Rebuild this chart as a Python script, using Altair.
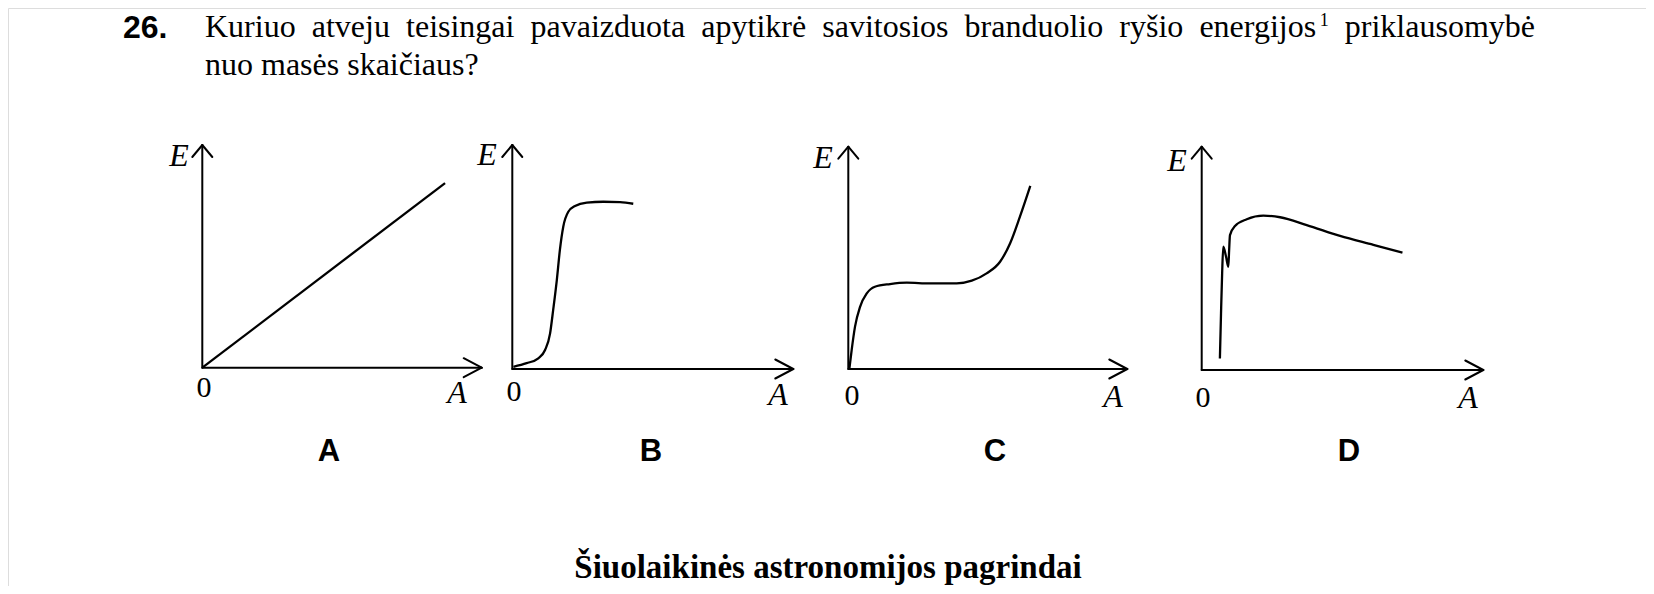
import altair as alt
import pandas as pd

# ---------------- data (panel-local units) ----------------
# A = mass number (0..100 along the drawn axis), E = binding energy per nucleon (0..100)
panel_names = ["A", "B", "C", "D"]

curve_A_a = [0.0, 86.7]
curve_A_e = [0.0, 82.8]

curve_B_a = [0.4, 5.1, 9.3, 11.7, 13.5, 14.6, 15.9, 17.0, 18.2, 20.0, 22.4, 26.6, 32.5, 38.5, 43.2]
curve_B_e = [1.0, 2.6, 4.8, 8.5, 16.0, 26.5, 39.9, 53.4, 63.8, 70.5, 73.1, 74.6, 75.0, 74.8, 74.1]

curve_C_a = [0.4, 1.2, 2.4, 4.2, 6.6, 9.5, 14.9, 20.9, 29.2, 38.7, 44.1, 49.4, 54.2, 57.8, 61.3, 65.0]
curve_C_e = [0.3, 8.5, 19.0, 27.9, 33.9, 36.9, 38.1, 38.7, 38.4, 38.4, 39.6, 42.9, 48.1, 56.4, 68.3, 82.1]

curve_D_a = [6.5, 6.9, 7.3, 7.7, 8.7, 9.5, 9.8, 10.1, 11.9, 16.1, 22.0, 28.0, 37.5, 49.4, 61.3, 71.7]
curve_D_e = [5.2, 25.4, 43.4, 55.3, 50.8, 46.3, 53.8, 60.5, 64.6, 67.6, 69.2, 68.5, 65.0, 60.1, 56.1, 52.6]

question_number = "26."
question_line1 = ["Kuriuo", "atveju", "teisingai", "pavaizduota", "apytikrė", "savitosios",
                  "branduolio", "ryšio", "energijos", "priklausomybė"]
question_line2 = "nuo masės skaičiaus?"
footnote_mark = "1"
axis_y_label = "E"
axis_x_label = "A"
origin_label = "0"
footer_text = "Šiuolaikinės astronomijos pagrindai"

# ---------------- layout (page pixels) ----------------
W, H = 1638, 578
origins = {"A": (202.3, 367.7), "B": (512.3, 369.0), "C": (848.3, 369.0), "D": (1201.7, 370.0)}
x_tips = {"A": 481.7, "B": 793.3, "C": 1127.3, "D": 1483.3}
y_tips = {"A": 145.0, "B": 145.0, "C": 146.7, "D": 146.7}
SX, SY = 2.8, 2.23

curves = {"A": (curve_A_a, curve_A_e), "B": (curve_B_a, curve_B_e),
          "C": (curve_C_a, curve_C_e), "D": (curve_D_a, curve_D_e)}

rows = []
for p in panel_names:
    ox, oy = origins[p]
    a_vals, e_vals = curves[p]
    for i, (a, e) in enumerate(zip(a_vals, e_vals)):
        rows.append({"panel": p, "order": i, "px": ox + a * SX, "py": oy - e * SY})
curve_df = pd.DataFrame(rows)

segs = []
for p in panel_names:
    ox, oy = origins[p]
    xt, yt = x_tips[p], y_tips[p]
    segs.append({"x": ox, "y": oy, "x2": xt, "y2": oy})
    segs.append({"x": ox, "y": oy, "x2": ox, "y2": yt})
    segs.append({"x": xt, "y": oy, "x2": xt - 18, "y2": oy - 9.5})
    segs.append({"x": xt, "y": oy, "x2": xt - 18, "y2": oy + 9.5})
    segs.append({"x": ox, "y": yt, "x2": ox - 10, "y2": yt + 12})
    segs.append({"x": ox, "y": yt, "x2": ox + 10, "y2": yt + 12})
seg_df = pd.DataFrame(segs)

# justified first line: Times-metric advance widths (em)
EM = {"a": .444, "b": .5, "c": .444, "d": .5, "e": .444, "g": .5, "i": .278, "j": .278, "k": .5,
      "l": .278, "m": .778, "n": .5, "o": .5, "p": .5, "r": .333, "s": .389, "t": .278, "u": .5,
      "v": .5, "y": .5, "z": .444, "K": .722, "ė": .444, "š": .389}
FS = 32.0
SUP_FS = 18.0
line_left, line_right = 205.0, 1535.0
widths = [sum(EM.get(ch, .5) for ch in w) * FS for w in question_line1]
sup_w = 0.5 * SUP_FS + 3
gap = (line_right - line_left - sum(widths) - sup_w) / (len(question_line1) - 1)
word_x, sup_x = [], None
cx = line_left
for i, w in enumerate(widths):
    word_x.append(cx)
    cx += w
    if question_line1[i] == "energijos":
        sup_x = cx + 3
        cx += sup_w
    cx += gap

xs = alt.Scale(domain=[8, 8 + W], nice=False, zero=False)
ys = alt.Scale(domain=[8, 8 + H], nice=False, zero=False, reverse=True)

axes = alt.Chart(seg_df).mark_rule(color="black", strokeWidth=2, strokeCap="round").encode(
    x=alt.X("x:Q", scale=xs, axis=None), y=alt.Y("y:Q", scale=ys, axis=None),
    x2="x2:Q", y2="y2:Q")

lines = alt.Chart(curve_df).mark_line(color="black", strokeWidth=2.3, interpolate="monotone").encode(
    x=alt.X("px:Q", scale=xs, axis=None), y=alt.Y("py:Q", scale=ys, axis=None),
    detail="panel:N", order="order:Q")

def text_layer(df, **mk):
    return alt.Chart(df).mark_text(color="black", **mk).encode(
        x=alt.X("x:Q", scale=xs, axis=None), y=alt.Y("y:Q", scale=ys, axis=None), text="t:N")

e_lab = pd.DataFrame({"t": [axis_y_label] * 4, "x": [179, 487, 823, 1177], "y": [166, 165, 168, 171]})
a_lab = pd.DataFrame({"t": [axis_x_label] * 4, "x": [457, 778, 1113, 1468], "y": [403, 405, 407, 408]})
o_lab = pd.DataFrame({"t": [origin_label] * 4, "x": [204, 514, 852, 1203], "y": [397, 401, 405, 407]})
letters = pd.DataFrame({"t": panel_names, "x": [329, 651, 995, 1349], "y": [461, 461, 461, 461]})

line1 = pd.DataFrame({"t": question_line1, "x": word_x, "y": [37] * len(question_line1)})
line2 = pd.DataFrame({"t": [question_line2], "x": [205], "y": [75]})
num = pd.DataFrame({"t": [question_number], "x": [123], "y": [37.5]})
sup = pd.DataFrame({"t": [footnote_mark], "x": [sup_x], "y": [26]})
foot = pd.DataFrame({"t": [footer_text], "x": [828], "y": [578]})

serif = "Liberation Serif"
sans = "Liberation Sans"

chart = alt.layer(
    axes,
    lines,
    text_layer(e_lab, font=serif, fontSize=32, fontStyle="italic", align="center", baseline="alphabetic"),
    text_layer(a_lab, font=serif, fontSize=32, fontStyle="italic", align="center", baseline="alphabetic"),
    text_layer(o_lab, font=serif, fontSize=30, align="center", baseline="alphabetic"),
    text_layer(letters, font=sans, fontSize=31, fontWeight="bold", align="center", baseline="alphabetic"),
    text_layer(line1, font=serif, fontSize=FS, align="left", baseline="alphabetic"),
    text_layer(line2, font=serif, fontSize=FS, align="left", baseline="alphabetic"),
    text_layer(num, font=sans, fontSize=32, fontWeight="bold", align="left", baseline="alphabetic"),
    text_layer(sup, font=serif, fontSize=SUP_FS, align="left", baseline="alphabetic"),
    text_layer(foot, font=serif, fontSize=33, fontWeight="bold", align="center", baseline="alphabetic"),
).properties(
    width=W, height=H, padding=0,
    autosize=alt.AutoSizeParams(type="none"),
).configure_view(stroke="transparent", strokeWidth=0).configure(background="white")

chart.save("out.html", embed_options={"renderer": "svg", "actions": False})
